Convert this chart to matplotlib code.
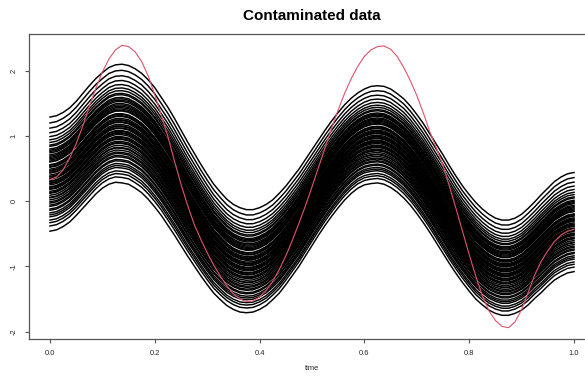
import numpy as np
import matplotlib.pyplot as plt

plt.rcParams["font.family"] = ["Liberation Sans", "DejaVu Sans"]

# time grid of the sampled curves (step 0.0125)
time_grid = np.linspace(0, 1, 81)

# lowest black curve
lower_curve = [-0.46, -0.44, -0.39, -0.32, -0.22, -0.11, 0.00, 0.11, 0.20, 0.26,
               0.29, 0.28, 0.26, 0.20, 0.13, 0.03, -0.09, -0.22, -0.37, -0.52,
               -0.68, -0.84, -0.99, -1.14, -1.28, -1.41, -1.51, -1.60, -1.66, -1.70,
               -1.71, -1.70, -1.66, -1.60, -1.51, -1.41, -1.28, -1.14, -1.00, -0.84,
               -0.68, -0.52, -0.37, -0.23, -0.10, 0.02, 0.12, 0.20, 0.25, 0.27,
               0.28, 0.26, 0.21, 0.14, 0.05, -0.06, -0.19, -0.33, -0.48, -0.64,
               -0.80, -0.96, -1.11, -1.25, -1.38, -1.50, -1.59, -1.67, -1.72, -1.75,
               -1.75, -1.72, -1.67, -1.59, -1.49, -1.40, -1.30, -1.21, -1.15, -1.10,
               -1.08]

# highest black curve
upper_curve = [1.29, 1.31, 1.36, 1.43, 1.53, 1.65, 1.77, 1.88, 1.97, 2.05,
               2.09, 2.10, 2.08, 2.03, 1.96, 1.86, 1.74, 1.59, 1.44, 1.27,
               1.09, 0.91, 0.74, 0.57, 0.41, 0.26, 0.14, 0.03, -0.05, -0.10,
               -0.13, -0.13, -0.10, -0.05, 0.02, 0.12, 0.23, 0.36, 0.49, 0.64,
               0.79, 0.94, 1.09, 1.23, 1.36, 1.48, 1.58, 1.66, 1.72, 1.76,
               1.77, 1.76, 1.72, 1.65, 1.57, 1.46, 1.33, 1.19, 1.03, 0.87,
               0.71, 0.54, 0.38, 0.23, 0.10, -0.02, -0.12, -0.20, -0.26, -0.29,
               -0.29, -0.26, -0.20, -0.11, -0.01, 0.10, 0.20, 0.30, 0.37, 0.42,
               0.44]

# the contaminating (red) curve
red_curve = [0.33, 0.37, 0.48, 0.66, 0.88, 1.15, 1.45, 1.73, 1.98, 2.18,
             2.32, 2.39, 2.37, 2.29, 2.14, 1.92, 1.63, 1.32, 0.99, 0.62,
             0.26, -0.06, -0.35, -0.58, -0.79, -0.98, -1.15, -1.30, -1.42, -1.50,
             -1.54, -1.53, -1.47, -1.37, -1.23, -1.05, -0.84, -0.60, -0.34, -0.07,
             0.22, 0.52, 0.82, 1.12, 1.40, 1.66, 1.88, 2.07, 2.22, 2.32,
             2.37, 2.38, 2.33, 2.22, 2.05, 1.85, 1.62, 1.35, 1.06, 0.81,
             0.55, 0.22, -0.12, -0.47, -0.82, -1.15, -1.45, -1.68, -1.83, -1.92,
             -1.94, -1.85, -1.66, -1.40, -1.13, -0.92, -0.76, -0.62, -0.52, -0.46,
             -0.43]

# value of each black curve at time 0
start_values = [1.29, 1.20, 1.12, 1.05, 0.99, 0.94, 0.90, 0.86, 0.84, 0.80,
                0.78, 0.76, 0.74, 0.71, 0.69, 0.67, 0.65, 0.63, 0.61, 0.60,
                0.56, 0.55, 0.53, 0.52, 0.49, 0.47, 0.46, 0.44, 0.43, 0.40,
                0.38, 0.37, 0.35, 0.34, 0.31, 0.30, 0.28, 0.27, 0.25, 0.22,
                0.21, 0.19, 0.18, 0.15, 0.13, 0.12, 0.09, 0.06, 0.05, 0.02,
                -0.01, -0.03, -0.06, -0.08, -0.12, -0.14, -0.18, -0.21, -0.24, -0.29,
                -0.33, -0.38, -0.46]

x_ticks = [0.0, 0.2, 0.4, 0.6, 0.8, 1.0]
y_ticks = [-2, -1, 0, 1, 2]

lower = np.array(lower_curve)
upper = np.array(upper_curve)

fig = plt.figure(figsize=(5.85, 3.77), dpi=100)
ax = fig.add_axes([29 / 585, 38 / 377, 566 / 585, 305 / 377])

for s in start_values:
    w = (s - lower[0]) / (upper[0] - lower[0])
    ax.plot(time_grid, lower + w * (upper - lower), color="black", lw=1.05,
            solid_joinstyle="round")

ax.plot(time_grid, red_curve, color="#DF536B", lw=0.8)

# R style 4% padding
all_vals = np.concatenate([lower, upper, red_curve])
r = all_vals.max() - all_vals.min()
ax.set_ylim(all_vals.min() - 0.04 * r, all_vals.max() + 0.04 * r)
ax.set_xlim(-0.04, 1.04)

ax.set_xticks(x_ticks)
ax.set_xticklabels(["%.1f" % v for v in x_ticks])
ax.set_yticks(y_ticks)
ax.set_yticklabels([str(v) for v in y_ticks], rotation=90, va="center")
ax.tick_params(length=3, width=0.8, color="#555555", labelsize=5.4,
               labelcolor="#222222")
ax.tick_params(axis="x", pad=5)
ax.tick_params(axis="y", pad=5)
for sp in ax.spines.values():
    sp.set_color("#555555")
    sp.set_linewidth(0.9)

ax.set_xlabel("time", fontsize=5.4, color="#222222", labelpad=6)
fig.text(312 / 585, 1 - 16 / 377, "Contaminated data", ha="center", va="center",
         fontsize=11, fontweight="bold")

fig.savefig("out.png", dpi=100)
